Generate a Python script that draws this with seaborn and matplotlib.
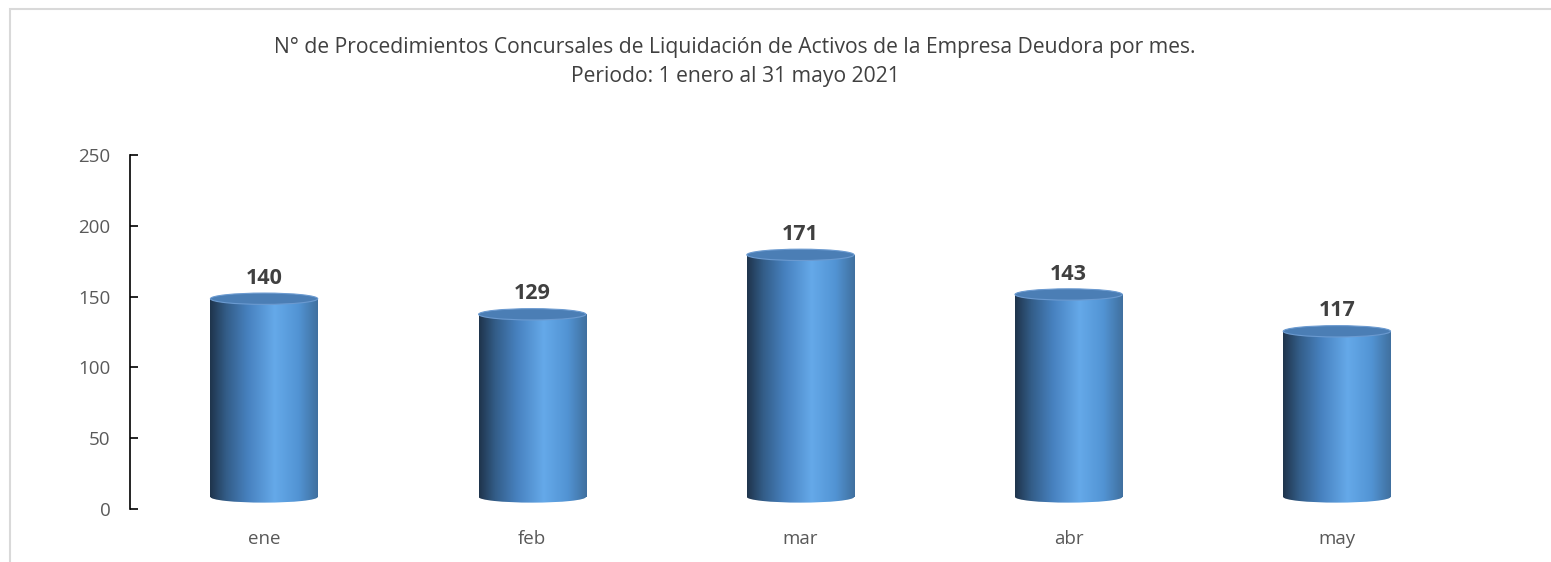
import numpy as np
import pandas as pd
import matplotlib
matplotlib.use("Agg")
import matplotlib.pyplot as plt
from matplotlib.colors import LinearSegmentedColormap
from matplotlib.patches import Ellipse, Rectangle
import seaborn as sns

months = ["ene", "feb", "mar", "abr", "may"]
counts = [140, 129, 171, 143, 117]
title = ("N° de Procedimientos Concursales de Liquidación de Activos de la Empresa Deudora por mes.\n"
         "Periodo: 1 enero al 31 mayo 2021")

df = pd.DataFrame({"mes": months, "n": counts})

sns.set_theme(style="white")
plt.rcParams["font.family"] = ["Open Sans", "DejaVu Sans"]

fig = plt.figure(figsize=(15.51, 5.62), dpi=100)
ax = fig.add_axes([0.0838, 0.0943, 0.8646, 0.6299])

sns.barplot(data=df, x="mes", y="n", width=0.4, color="#4a86c4", ax=ax)

cmap = LinearSegmentedColormap.from_list("cyl", [
    (0.0, "#1f344c"), (0.15, "#335d88"), (0.35, "#4781bf"),
    (0.6, "#65a9e9"), (0.82, "#5294d4"), (1.0, "#40709f")])
grad = np.linspace(0, 1, 256).reshape(1, -1)

depth = 8.5      # 3d offset of the cylinders
ell_h = 8.0      # ellipse height in data units

for p, val in zip(ax.patches, counts):
    x0, w = p.get_x(), p.get_width()
    p.set_y(p.get_y() + depth)
    p.set_facecolor("none")
    p.set_edgecolor("none")
    y0, y1 = depth, val + depth
    bottom = Ellipse((x0 + w / 2, y0), w, ell_h, facecolor="none", edgecolor="none")
    ax.add_patch(bottom)
    for clip in (p, bottom):
        im = ax.imshow(grad, cmap=cmap, aspect="auto", extent=(x0, x0 + w, y0 - ell_h, y1),
                       origin="lower", zorder=2, interpolation="bicubic")
        im.set_clip_path(clip)
    ax.add_patch(Ellipse((x0 + w / 2, y1), w, ell_h, facecolor="#4b7eb5",
                         edgecolor="#6b9ad0", lw=0.8, zorder=3))
    ax.text(x0 + w / 2, y1 + ell_h / 2 + 3, str(val), ha="center", va="bottom",
            fontsize=15.5, fontweight="bold", color="#404040", zorder=4)

ax.set_xlim(-0.5, 4.5)
ax.set_ylim(0, 250)
ax.set_yticks(range(0, 251, 50))
ax.set_xlabel("")
ax.set_ylabel("")
sns.despine(ax=ax, bottom=True)
ax.spines["left"].set_color("#000000")
ax.spines["left"].set_linewidth(1.2)
ax.tick_params(axis="y", direction="in", length=6, width=1.2, color="#000000",
               left=True, pad=14, labelsize=13.5, labelcolor="#595959")
ax.tick_params(axis="x", length=0, pad=15, labelsize=13.5, labelcolor="#595959")

fig.text(0.474, 0.935, title, ha="center", va="top", fontsize=15.2,
         color="#404040", linespacing=1.55)

fig.patches.append(Rectangle((10 / 1551, -0.1), 1.2, 1 - 9 / 562 + 0.1,
                             transform=fig.transFigure, fill=False,
                             edgecolor="#d9d9d9", lw=1.5))

fig.savefig("out.png", dpi=100)
